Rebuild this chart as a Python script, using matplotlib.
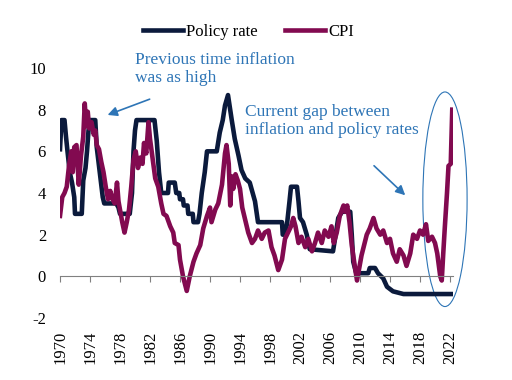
import matplotlib
matplotlib.use("Agg")
import matplotlib.pyplot as plt
from matplotlib.patches import Ellipse

# policy rate (step-like series), decimal years
policy_year = [1970.0, 1970.2, 1970.6, 1970.8, 1971.0, 1971.3, 1971.6, 1971.9, 1972.0, 1972.9,
               1973.1, 1973.4, 1973.6, 1973.8, 1974.0, 1974.7, 1974.9, 1975.3, 1975.7, 1975.9,
               1977.5, 1977.8, 1978.0, 1979.3, 1979.6, 1979.8, 1980.0, 1980.2, 1982.6, 1982.9,
               1983.2, 1983.5, 1984.4, 1984.5, 1985.3, 1985.5, 1985.9, 1986.0, 1986.4, 1986.5,
               1987.0, 1987.1, 1987.7, 1987.8, 1988.4, 1988.6, 1988.9, 1989.3, 1989.6, 1990.9,
               1991.3, 1991.7, 1992.0, 1992.4, 1992.9, 1993.3, 1993.8, 1994.2, 1994.7, 1995.3,
               1996.0, 1996.4, 1999.6, 1999.7, 2000.0, 2000.3, 2000.6, 2000.8, 2001.6, 2001.8,
               2002.0, 2002.4, 2002.9, 2003.3, 2006.4, 2006.8, 2007.1, 2007.6, 2008.7, 2008.9,
               2009.1, 2009.5, 2011.1, 2011.3, 2012.0, 2012.4, 2013.1, 2013.6, 2014.4, 2015.8,
               2022.35]
policy_rate = [6.1, 7.5, 7.5, 6.7, 6.0, 5.0, 4.5, 3.8, 3.0, 3.0,
               4.6, 5.2, 6.0, 7.0, 7.5, 7.5, 6.2, 5.0, 3.8, 3.5,
               3.5, 3.3, 3.0, 3.0, 4.0, 6.0, 7.0, 7.5, 7.5, 6.5,
               5.0, 4.0, 4.0, 4.5, 4.5, 4.0, 4.0, 3.7, 3.7, 3.4,
               3.4, 3.0, 3.0, 2.6, 2.6, 3.0, 4.0, 5.0, 6.0, 6.0,
               6.9, 7.5, 8.2, 8.7, 7.5, 6.6, 5.8, 5.1, 4.7, 4.5,
               3.6, 2.6, 2.6, 2.0, 2.0, 2.6, 3.6, 4.3, 4.3, 3.6,
               2.8, 2.6, 2.0, 1.3, 1.2, 2.1, 2.8, 3.1, 3.1, 2.0,
               0.7, 0.15, 0.15, 0.4, 0.4, 0.15, -0.1, -0.5, -0.72, -0.85,
               -0.85]

# CPI inflation
cpi_year = [1970.0, 1970.3, 1970.6, 1970.9, 1971.2, 1971.5, 1971.7, 1971.9, 1972.2, 1972.5,
            1972.8, 1973.1, 1973.3, 1973.5, 1973.7, 1973.9, 1974.2, 1974.5, 1974.7, 1974.9,
            1975.2, 1975.5, 1975.8, 1976.1, 1976.4, 1976.7, 1977.0, 1977.3, 1977.6, 1977.8,
            1978.0, 1978.3, 1978.6, 1978.9, 1979.2, 1979.5, 1979.8, 1980.1, 1980.4, 1980.7,
            1981.0, 1981.2, 1981.5, 1981.8, 1982.0, 1982.3, 1982.7, 1983.1, 1983.5, 1983.8,
            1984.2, 1984.4, 1984.7, 1985.1, 1985.3, 1985.8, 1986.0, 1986.4, 1986.9, 1987.3,
            1987.8, 1988.2, 1988.7, 1989.1, 1989.6, 1990.0, 1990.2, 1990.7, 1991.1, 1991.6,
            1992.0, 1992.2, 1992.5, 1992.7, 1992.9, 1993.1, 1993.4, 1993.7, 1994.0, 1994.3,
            1994.7, 1995.1, 1995.6, 1996.0, 1996.4, 1996.9, 1997.3, 1997.8, 1998.2, 1998.6,
            1999.1, 1999.6, 2000.0, 2000.4, 2000.8, 2001.1, 2001.4, 2001.8, 2002.2, 2002.7,
            2003.1, 2003.6, 2004.0, 2004.4, 2004.9, 2005.3, 2005.8, 2006.2, 2006.5, 2006.9,
            2007.3, 2007.8, 2008.0, 2008.3, 2008.6, 2008.9, 2009.3, 2009.6, 2009.9, 2010.2,
            2010.9, 2011.3, 2011.8, 2012.2, 2012.7, 2013.1, 2013.6, 2014.0, 2014.4, 2014.9,
            2015.3, 2015.8, 2016.2, 2016.7, 2017.1, 2017.6, 2018.0, 2018.4, 2018.8, 2019.1,
            2019.6, 2020.0, 2020.3, 2020.7, 2020.9, 2021.1, 2021.3, 2021.6, 2021.8, 2022.1,
            2022.3]
cpi = [2.9, 3.8, 4.0, 4.3, 5.3, 6.0, 5.0, 6.2, 6.3, 4.4,
       5.8, 6.7, 8.3, 7.2, 7.9, 7.1, 7.4, 6.8, 7.0, 6.3,
       6.1, 5.5, 5.0, 4.3, 3.7, 4.1, 3.7, 3.5, 4.5, 3.6,
       3.2, 2.6, 2.1, 2.6, 3.2, 4.3, 5.6, 6.0, 5.2, 5.7,
       5.4, 6.4, 5.9, 7.4, 6.6, 5.8, 4.7, 4.3, 3.5, 3.0,
       2.9, 2.7, 2.4, 2.1, 1.6, 1.5, 0.8, 0.0, -0.7, 0.0,
       0.7, 1.1, 1.5, 2.3, 2.9, 3.3, 2.6, 3.2, 3.5, 4.4,
       5.9, 6.3, 5.4, 3.4, 4.8, 4.2, 4.9, 4.6, 4.2, 3.3,
       2.7, 2.1, 1.6, 1.8, 2.2, 1.8, 2.1, 2.2, 1.4, 1.0,
       0.3, 0.8, 1.8, 2.1, 2.4, 2.8, 2.4, 1.6, 1.9, 1.4,
       1.8, 1.2, 1.6, 2.1, 1.6, 2.2, 1.9, 2.4, 1.6, 2.1,
       2.9, 3.4, 3.1, 3.4, 2.6, 1.5, 0.5, -0.2, 0.4, 1.0,
       2.0, 2.3, 2.8, 2.3, 2.0, 2.2, 1.6, 1.8, 1.1, 0.7,
       1.3, 1.0, 0.5, 1.1, 2.0, 1.8, 2.2, 2.0, 2.5, 1.7,
       1.9, 1.6, 1.1, 0.0, -0.2, 1.1, 2.3, 4.0, 5.3, 5.4,
       8.0]

year_ticks = list(range(1970, 2023, 4))
value_ticks = [-2, 0, 2, 4, 6, 8, 10]

navy = "#0b1a3c"
purple = "#820a50"
note = "#2e75b6"

plt.rcParams["font.family"] = ["Liberation Serif", "DejaVu Serif"]
plt.rcParams["axes.unicode_minus"] = False

fig = plt.figure(figsize=(5.12, 3.8), dpi=100)
ax = fig.add_axes([60 / 512, 62 / 380, 393 / 512, 250 / 380])

ax.plot(policy_year, policy_rate, color=navy, lw=3.3, label="Policy rate")
ax.plot(cpi_year, cpi, color=purple, lw=3.3, label="CPI")

ax.set_xlim(1970, 2022.4)
ax.set_ylim(-2, 10)
ax.set_xticks(year_ticks)
ax.set_xticklabels([str(y) for y in year_ticks])
ax.set_yticks(value_ticks)

for s in ["top", "right", "left"]:
    ax.spines[s].set_visible(False)
ax.spines["bottom"].set_position(("data", 0))
ax.spines["bottom"].set_color("#808080")
ax.tick_params(axis="x", direction="out", length=4, color="#808080",
               pad=35, labelsize=12, labelrotation=90)
ax.tick_params(axis="y", length=0, pad=10, labelsize=12)
for lab in ax.get_xticklabels():
    lab.set_va("top")

ax.annotate("", xy=(1976.0, 7.7), xytext=(1982.3, 8.55),
            arrowprops=dict(arrowstyle="-|>", color=note, lw=1.2, mutation_scale=14))
ax.text(1980.0, 10.75, "Previous time inflation\nwas as high", color=note,
        fontsize=12.5, va="top", ha="left", linespacing=1.1)

ax.annotate("", xy=(2016.3, 3.8), xytext=(2011.6, 5.4),
            arrowprops=dict(arrowstyle="-|>", color=note, lw=1.2, mutation_scale=14))
ax.text(1994.7, 8.25, "Current gap between\ninflation and policy rates", color=note,
        fontsize=12.5, va="top", ha="left", linespacing=1.1)

ax.add_patch(Ellipse((2021.33, 3.7), 5.9, 10.3, fill=False, edgecolor=note,
                     lw=0.8, clip_on=False))

fig.legend(loc="center", bbox_to_anchor=(0.485, 0.916), ncol=2, frameon=False,
           fontsize=12, handlelength=2.4, columnspacing=1.6, handletextpad=0.2)

fig.savefig("out.png", dpi=100)
